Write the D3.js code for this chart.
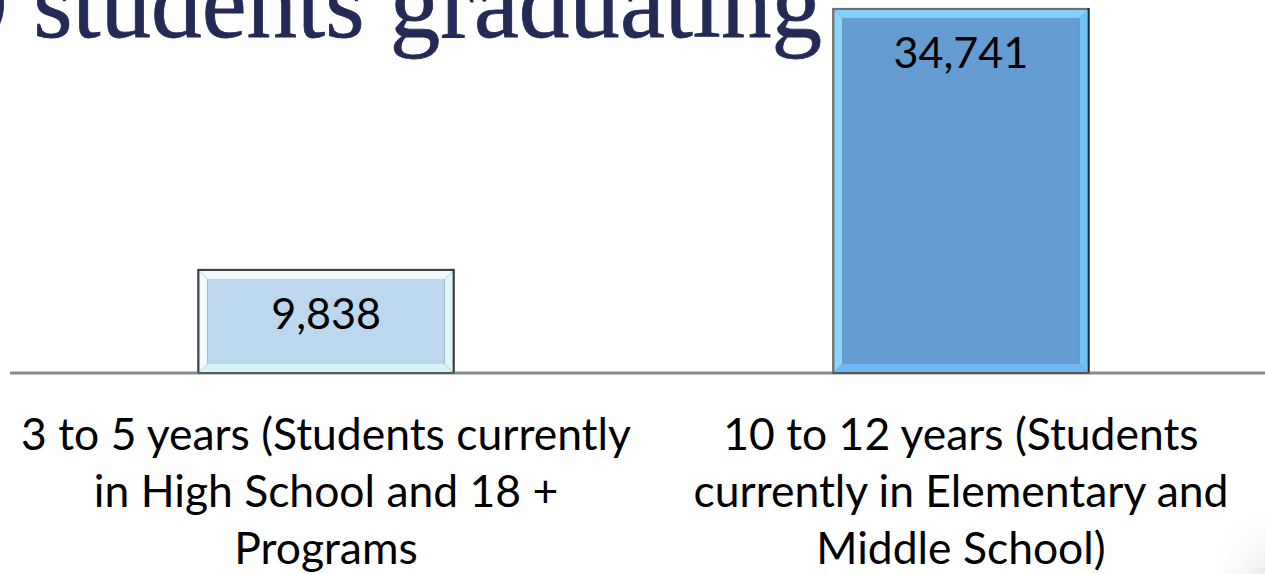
<!DOCTYPE html>
<html><head><meta charset="utf-8">
<script src="https://cdn.jsdelivr.net/npm/d3@7/dist/d3.min.js"></script>
<style>html,body{margin:0;padding:0;background:#fff;overflow:hidden}</style>
</head><body>
<svg id="c" width="1265" height="574"></svg>
<script>
const categories = ["3 to 5 years (Students currently in High School and 18 + Programs",
                    "10 to 12 years (Students currently in Elementary and Middle School)"];
const categoryLines = [
  ["3 to 5 years (Students currently", "in High School and 18 +", "Programs"],
  ["10 to 12 years (Students", "currently in Elementary and", "Middle School)"]
];
const values = [9838, 34741];
const titleText = "9 students graduating";

const W = 1265, H = 574;
const svg = d3.select("#c");
const defs = svg.append("defs");
const rg = defs.append("radialGradient").attr("id","corner").attr("cx","100%").attr("cy","100%").attr("r","100%");
rg.append("stop").attr("offset","0").attr("stop-color","#ececec");
rg.append("stop").attr("offset","1").attr("stop-color","#ffffff").attr("stop-opacity",0);
svg.append("rect").attr("x",1205).attr("y",500).attr("width",60).attr("height",74).attr("fill","url(#corner)");

const baseY = 372;
const x = d3.scaleBand().domain(categories).range([0, 1287]).paddingInner(0.595).paddingOuter(0.311);
const y = d3.scaleLinear().domain([0, 35500]).range([baseY, 0]);

const styles = [
  {fill:"#BDD7EE", top:"#F2FAFD", left:"#F4FBFE", right:"#DDF5FB", bottom:"#D6F3FA", bl:"#404040", br:"#3a3a3a", bb:"#5a5a5a"},
  {fill:"#659DD2", top:"#82D0FB", left:"#86D6FD", right:"#74C2F6", bottom:"#6DB8F2", bl:"#6f6f6f", br:"#1c2b38", bb:"#555"}
];

// title
const tf = "'Liberation Serif', 'Times New Roman', serif";
const title = svg.append("text").text(titleText)
  .attr("font-family",tf).attr("fill","#242A56")
  .attr("stroke","#242A56").attr("stroke-width",0.8)
  .attr("font-size",100);
const probe = svg.append("text").text("students graduating")
  .attr("font-family",tf).attr("font-size",100);
const pw = probe.node().getComputedTextLength(); probe.remove();
const tfs = 100 * 789 / pw;
title.attr("font-size", tfs).attr("text-anchor","end").attr("x", 822).attr("y", 37);

// axis line
svg.append("line").attr("x1",10).attr("x2",W).attr("y1",baseY+1).attr("y2",baseY+1)
  .attr("stroke","#8c8c8c").attr("stroke-width",3);

const b = 8;
categories.forEach((c,i)=>{
  const s = styles[i];
  const x0 = x(c), x1 = x(c)+x.bandwidth();
  const y0 = y(values[i]), y1 = y(0);
  const g = svg.append("g");
  g.append("rect").attr("x",x0).attr("y",y0).attr("width",x1-x0).attr("height",y1-y0+2).attr("fill",s.bb);
  g.append("rect").attr("x",x0).attr("y",y0).attr("width",x1-x0-1).attr("height",y1-y0).attr("fill",s.bl);
  g.append("rect").attr("x",x1-2).attr("y",y0).attr("width",2).attr("height",y1-y0).attr("fill",s.br);
  const ix0 = x0+2, ix1 = x1-2, iy0 = y0+2, iy1 = y1;
  const poly = (pts, col) => g.append("polygon").attr("points", pts.map(p=>p.join(",")).join(" ")).attr("fill", col);
  poly([[ix0,iy0],[ix1,iy0],[ix1-b,iy0+b],[ix0+b,iy0+b]], s.top);
  poly([[ix0,iy0],[ix0+b,iy0+b],[ix0+b,iy1-b],[ix0,iy1]], s.left);
  poly([[ix1,iy0],[ix1,iy1],[ix1-b,iy1-b],[ix1-b,iy0+b]], s.right);
  poly([[ix0,iy1],[ix0+b,iy1-b],[ix1-b,iy1-b],[ix1,iy1]], s.bottom);
  g.append("rect").attr("x",ix0+b).attr("y",iy0+b).attr("width",ix1-ix0-2*b).attr("height",iy1-iy0-2*b).attr("fill",s.fill);
});

const lf = "Lato, 'Open Sans', sans-serif";
const probe2 = svg.append("text").text(categoryLines[0][0]).attr("font-family",lf).attr("font-size",100);
const lw = probe2.node().getComputedTextLength(); probe2.remove();
const lfs = 100 * 610 / lw;

categories.forEach((c,i)=>{
  const cx = x(c) + x.bandwidth()/2;
  svg.append("text").text(d3.format(",")(values[i]))
    .attr("x", cx).attr("y", y(values[i]) + 60).attr("text-anchor","middle")
    .attr("font-family", lf).attr("font-size", lfs*0.97).attr("fill","#000");
  const t = svg.append("text").attr("text-anchor","middle").attr("font-family",lf)
    .attr("font-size",lfs).attr("fill","#000");
  categoryLines[i].forEach((ln,j)=>{
    t.append("tspan").attr("x",cx).attr("y",450 + j*57).text(ln);
  });
});
</script>
</body></html>
